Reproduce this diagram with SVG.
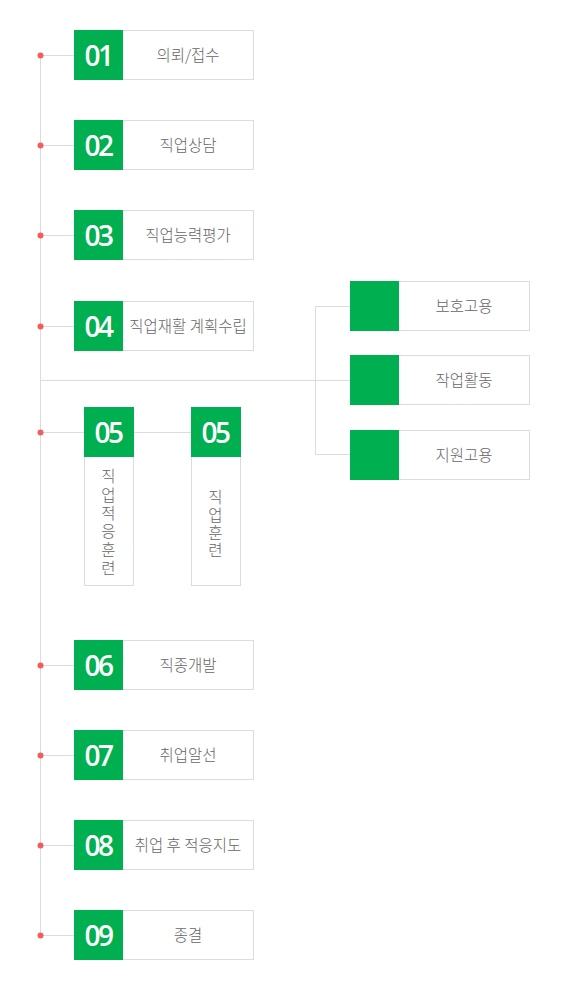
<svg xmlns="http://www.w3.org/2000/svg" width="575" height="1000" viewBox="0 0 575 1000">
<style>
.box{fill:#fff;stroke:#dcdcdc;stroke-width:1}
.sq{fill:#00b050}
.num{font-family:"Open Sans","Liberation Sans",sans-serif;font-weight:600;font-size:28px;fill:#fff;text-anchor:middle;letter-spacing:-2.5px}
.lbl{font-family:"Noto Sans CJK KR","Noto Sans",sans-serif;font-weight:300;font-size:15.5px;fill:#666;text-anchor:middle}
.vt{font-family:"Noto Sans CJK KR","Noto Sans",sans-serif;font-weight:300;font-size:15.5px;fill:#666;writing-mode:vertical-rl;text-orientation:upright}
.ln{stroke:#dcdcdc;stroke-width:1;fill:none}
.dot{fill:#f25c5c}
</style>
<rect width="575" height="1000" fill="#fff"/>
<g id="connectors">
<line class="ln" x1="40.5" y1="56" x2="40.5" y2="936"/>
<line class="ln" x1="40" y1="55.5" x2="74" y2="55.5"/>
<line class="ln" x1="40" y1="145.5" x2="74" y2="145.5"/>
<line class="ln" x1="40" y1="235.5" x2="74" y2="235.5"/>
<line class="ln" x1="40" y1="326.5" x2="74" y2="326.5"/>
<line class="ln" x1="40" y1="380.5" x2="350" y2="380.5"/>
<line class="ln" x1="315.5" y1="306" x2="315.5" y2="454"/>
<line class="ln" x1="315" y1="306.5" x2="350" y2="306.5"/>
<line class="ln" x1="315" y1="454.5" x2="350" y2="454.5"/>
<line class="ln" x1="40" y1="432.5" x2="191" y2="432.5"/>
<line class="ln" x1="40" y1="665.5" x2="74" y2="665.5"/>
<line class="ln" x1="40" y1="755.5" x2="74" y2="755.5"/>
<line class="ln" x1="40" y1="845.5" x2="74" y2="845.5"/>
<line class="ln" x1="40" y1="935.5" x2="74" y2="935.5"/>
<circle class="dot" cx="40.5" cy="55.5" r="3"/>
<circle class="dot" cx="40.5" cy="145.5" r="3"/>
<circle class="dot" cx="40.5" cy="235.5" r="3"/>
<circle class="dot" cx="40.5" cy="326.5" r="3"/>
<circle class="dot" cx="40.5" cy="432.5" r="3"/>
<circle class="dot" cx="40.5" cy="665.5" r="3"/>
<circle class="dot" cx="40.5" cy="755.5" r="3"/>
<circle class="dot" cx="40.5" cy="845.5" r="3"/>
<circle class="dot" cx="40.5" cy="935.5" r="3"/>
</g>
<g id="n01"><rect class="box" x="74.5" y="30.5" width="179" height="49"/><rect class="sq" x="74" y="30" width="49" height="50"/><text class="num" x="98" y="65.5">01</text><text class="lbl" x="188" y="60.5">의뢰/접수</text></g>
<g id="n02"><rect class="box" x="74.5" y="120.5" width="179" height="49"/><rect class="sq" x="74" y="120" width="49" height="50"/><text class="num" x="98" y="155.5">02</text><text class="lbl" x="188" y="150.5">직업상담</text></g>
<g id="n03"><rect class="box" x="74.5" y="210.5" width="179" height="49"/><rect class="sq" x="74" y="210" width="49" height="50"/><text class="num" x="98" y="245.5">03</text><text class="lbl" x="188" y="240.5">직업능력평가</text></g>
<g id="n04"><rect class="box" x="74.5" y="301.5" width="179" height="49"/><rect class="sq" x="74" y="301" width="49" height="50"/><text class="num" x="98" y="336.5">04</text><text class="lbl" x="188" y="331.5">직업재활 계획수립</text></g>
<g id="r1"><rect class="box" x="350.5" y="281.5" width="179" height="49"/><rect class="sq" x="350" y="281" width="49" height="50"/><text class="lbl" x="464" y="311.5">보호고용</text></g>
<g id="r2"><rect class="box" x="350.5" y="355.5" width="179" height="49"/><rect class="sq" x="350" y="355" width="49" height="50"/><text class="lbl" x="464" y="385.5">작업활동</text></g>
<g id="r3"><rect class="box" x="350.5" y="430.5" width="179" height="49"/><rect class="sq" x="350" y="430" width="49" height="50"/><text class="lbl" x="464" y="460.5">지원고용</text></g>
<g id="n05a"><rect class="box" x="84.5" y="407.5" width="49" height="178"/><rect class="sq" x="84" y="407" width="50" height="50"/><text class="num" x="108" y="442.5">05</text>
<text class="vt" x="108.5" y="468.5" style="letter-spacing:2.9px">직업적응훈련</text></g>
<g id="n05b"><rect class="box" x="191.5" y="407.5" width="49" height="178"/><rect class="sq" x="191" y="407" width="50" height="50"/><text class="num" x="215" y="442.5">05</text>
<text class="vt" x="215.5" y="489.5" style="letter-spacing:2.2px">직업훈련</text></g>
<g id="n06"><rect class="box" x="74.5" y="640.5" width="179" height="49"/><rect class="sq" x="74" y="640" width="49" height="50"/><text class="num" x="98" y="675.5">06</text><text class="lbl" x="188" y="670.5">직종개발</text></g>
<g id="n07"><rect class="box" x="74.5" y="730.5" width="179" height="49"/><rect class="sq" x="74" y="730" width="49" height="50"/><text class="num" x="98" y="765.5">07</text><text class="lbl" x="188" y="760.5">취업알선</text></g>
<g id="n08"><rect class="box" x="74.5" y="820.5" width="179" height="49"/><rect class="sq" x="74" y="820" width="49" height="50"/><text class="num" x="98" y="855.5">08</text><text class="lbl" x="188" y="850.5">취업 후 적응지도</text></g>
<g id="n09"><rect class="box" x="74.5" y="910.5" width="179" height="49"/><rect class="sq" x="74" y="910" width="49" height="50"/><text class="num" x="98" y="945.5">09</text><text class="lbl" x="188" y="940.5">종결</text></g>
</svg>
